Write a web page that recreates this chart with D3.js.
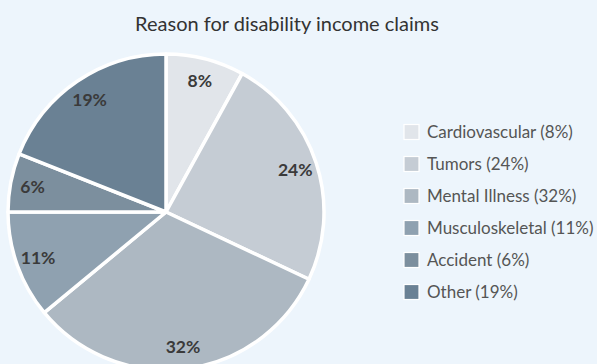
<!DOCTYPE html>
<html>
<head>
<meta charset="utf-8">
<script src="https://cdn.jsdelivr.net/npm/d3@7"></script>
<style>
  body { margin: 0; background: #edf5fc; }
  #chart { width: 597px; height: 364px; }
  text { font-family: Lato, "Open Sans", sans-serif; }
</style>
</head>
<body>
<div id="chart"><svg width="597" height="364"></svg></div>
<script>
// data
const categories = ["Cardiovascular", "Tumors", "Mental Illness", "Musculoskeletal", "Accident", "Other"];
const shares = [8, 24, 32, 11, 6, 19];
const sliceColors = ["#e1e5ea", "#c5ccd4", "#adb8c2", "#8fa1b0", "#7c8f9e", "#6a8194"];

const svg = d3.select("#chart").select("svg");
const width = 597, height = 364;

const cx = 166, cy = 212;
const radius = 158;

const data = categories.map((c, i) => ({name: c, value: shares[i], color: sliceColors[i]}));

/***** TITLE *****/
svg.append("text")
    .attr("x", 287)
    .attr("y", 31)
    .attr("text-anchor", "middle")
    .style("font-size", "20px")
    .style("fill", "#333")
    .text("Reason for disability income claims");

/***** PIE *****/
const pie = d3.pie()
    .value(d => d.value)
    .sort(null);

const arc = d3.arc()
    .innerRadius(0)
    .outerRadius(radius);

const labelArc = d3.arc()
    .innerRadius(radius * 0.86)
    .outerRadius(radius * 0.86);

const plot = svg.append("g")
    .attr("transform", `translate(${cx}, ${cy})`);

plot.selectAll(".slice")
    .data(pie(data))
    .enter()
    .append("path")
    .attr("class", "slice")
    .attr("d", arc)
    .style("fill", d => d.data.color)
    .style("stroke", "#fff")
    .style("stroke-width", 3.5)
    .style("stroke-linejoin", "round");

plot.selectAll(".sliceLabel")
    .data(pie(data))
    .enter()
    .append("text")
    .attr("class", "sliceLabel")
    .attr("transform", d => `translate(${labelArc.centroid(d)})`)
    .attr("text-anchor", "middle")
    .attr("dy", "0.36em")
    .style("font-size", "17.5px")
    .style("font-weight", "bold")
    .style("fill", "#3a3a3a")
    .text(d => d.data.value + "%");

/***** LEGEND *****/
const legendY = d3.scaleBand()
    .domain(categories)
    .range([116, 308]);

const legend = svg.append("g")
    .attr("class", "legend");

const rows = legend.selectAll(".row")
    .data(data)
    .enter()
    .append("g")
    .attr("class", "row")
    .attr("transform", d => `translate(404, ${legendY(d.name) + legendY.bandwidth() / 2})`);

rows.append("rect")
    .attr("x", 0)
    .attr("y", -7.5)
    .attr("width", 15)
    .attr("height", 15)
    .style("fill", d => d.color)
    .style("stroke", "#fff")
    .style("stroke-width", 1.2);

rows.append("text")
    .attr("x", 23)
    .attr("dy", "0.35em")
    .style("font-size", "17px")
    .style("fill", "#555")
    .text(d => `${d.name} (${d.value}%)`);
</script>
</body>
</html>
